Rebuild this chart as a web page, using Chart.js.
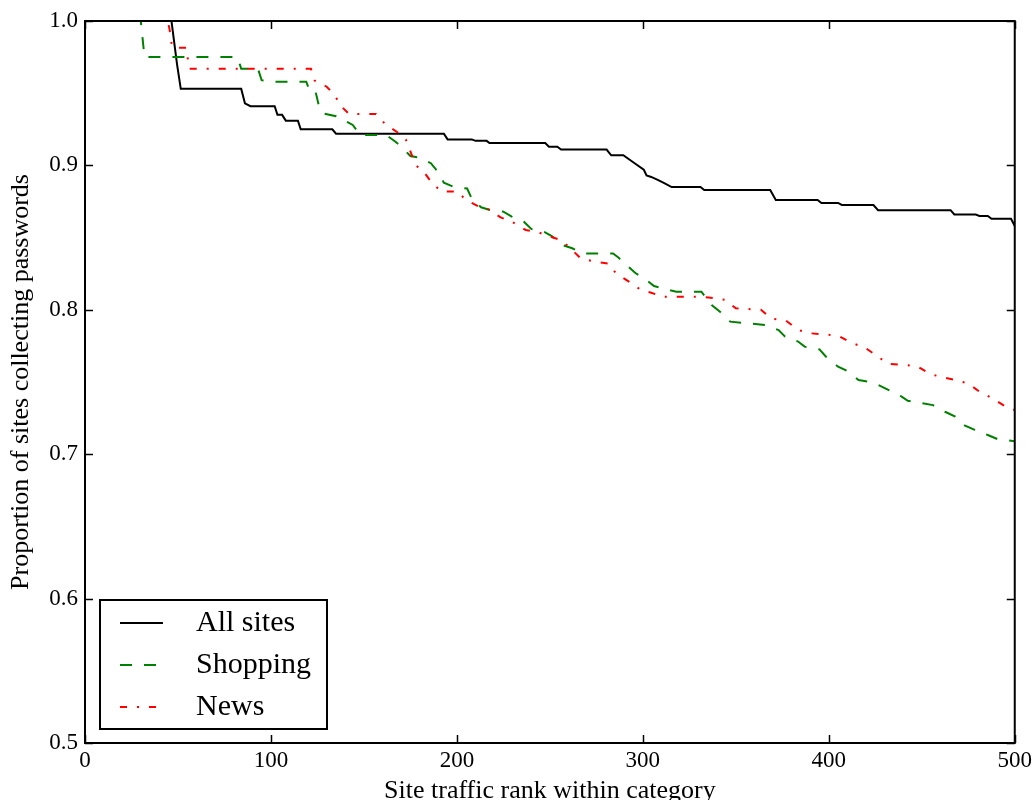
<!DOCTYPE html>
<html>
<head>
<meta charset="utf-8">
<script src="https://cdn.jsdelivr.net/npm/chart.js@4"></script>
<style>
  body { margin: 0; background: #fff; }
</style>
</head>
<body>
<canvas id="myChart" width="1036" height="800"></canvas>
<script>
// values (site rank -> proportion)
const rankAll = [0, 46.5, 49.5, 51.5, 84, 86, 89, 102, 103.5, 106, 108, 114.5, 116, 133, 135, 193, 195, 208, 210, 216, 217.5, 247.5, 249.5, 254, 256, 280.5, 283, 289.5, 295, 300.5, 302, 304.5, 308, 311, 315.5, 331, 333, 368.5, 371.5, 394, 396, 405, 407, 424, 426.5, 465.5, 467.5, 479, 481, 485.5, 487.5, 498, 500];
const allSites = [1.0, 1.0, 0.97, 0.953, 0.953, 0.943, 0.941, 0.941, 0.935, 0.935, 0.931, 0.931, 0.925, 0.925, 0.922, 0.922, 0.918, 0.918, 0.917, 0.917, 0.9155, 0.9155, 0.913, 0.913, 0.911, 0.911, 0.907, 0.907, 0.902, 0.897, 0.893, 0.892, 0.890, 0.888, 0.885, 0.885, 0.883, 0.883, 0.876, 0.876, 0.874, 0.874, 0.8726, 0.8726, 0.869, 0.869, 0.866, 0.866, 0.865, 0.865, 0.863, 0.863, 0.858];

const rankShopping = [0, 30, 32, 82, 84, 93, 95, 101, 119, 121, 124, 126, 128, 135, 139.5, 144, 148, 162, 167, 170, 175, 181, 186, 189.5, 193, 198.5, 205.5, 208, 213, 218, 225, 229.5, 236, 240, 247, 251, 256.5, 262, 268, 284, 287, 292, 296, 302, 306, 313, 318, 331.5, 337, 341.5, 347, 366, 373, 376.5, 383.5, 387, 395, 398.5, 405, 409, 416, 421, 426.5, 432, 439, 442.5, 456, 462.5, 468, 473, 478.5, 485.5, 491, 500];
const shopping = [1.0, 1.0, 0.975, 0.975, 0.967, 0.967, 0.959, 0.958, 0.958, 0.951, 0.951, 0.94, 0.936, 0.934, 0.931, 0.928, 0.921, 0.921, 0.9164, 0.913, 0.9065, 0.905, 0.9015, 0.896, 0.888, 0.885, 0.884, 0.877, 0.871, 0.869, 0.868, 0.8645, 0.861, 0.856, 0.854, 0.851, 0.845, 0.8426, 0.839, 0.839, 0.836, 0.83, 0.8255, 0.8206, 0.8165, 0.814, 0.8125, 0.8125, 0.8033, 0.7987, 0.7918, 0.7895, 0.786, 0.7814, 0.778, 0.7745, 0.7726, 0.7675, 0.7606, 0.7583, 0.7514, 0.7502, 0.748, 0.7445, 0.74, 0.737, 0.734, 0.7294, 0.726, 0.72, 0.7168, 0.7133, 0.7103, 0.709];

const rankNews = [0, 44.5, 45.5, 46.7, 47.5, 54.5, 56, 121.5, 123.5, 130, 134, 138, 142, 156.5, 158.5, 162, 168, 172.5, 175.5, 178, 182.5, 186.5, 191.5, 200, 205, 212, 217, 223.5, 229.5, 237, 243, 250.5, 256.5, 262, 266.5, 274.5, 281.5, 285.5, 292.5, 299, 304.5, 311, 331, 336.5, 344.5, 350, 363.5, 369, 377, 383.5, 390.5, 401, 406, 412, 419.5, 426.5, 432, 441, 448, 454.5, 460, 468, 475, 481, 488, 495, 500];
const news = [1.0, 1.0, 0.994, 0.983, 0.9815, 0.9815, 0.967, 0.967, 0.9587, 0.9545, 0.949, 0.9407, 0.9356, 0.9356, 0.9326, 0.928, 0.923, 0.918, 0.908, 0.9, 0.895, 0.888, 0.882, 0.882, 0.876, 0.8714, 0.8696, 0.864, 0.861, 0.8553, 0.854, 0.8506, 0.848, 0.8414, 0.8357, 0.8333, 0.832, 0.8253, 0.8195, 0.8137, 0.8118, 0.809, 0.809, 0.8084, 0.8068, 0.801, 0.8, 0.794, 0.7925, 0.786, 0.7837, 0.7826, 0.7814, 0.7772, 0.7738, 0.7675, 0.7625, 0.7618, 0.7606, 0.7555, 0.7537, 0.7514, 0.749, 0.7433, 0.7387, 0.733, 0.7306];

const seriesNames = ["All sites", "Shopping", "News"];

const toPoints = (xs, ys) => xs.map((x, i) => ({x: x, y: ys[i]}));

const serif = "'Liberation Serif', 'Times New Roman', serif";

// data block
const data = {
    datasets: [{
        label: seriesNames[0],
        data: toPoints(rankAll, allSites),
        borderColor: '#000000',
        borderWidth: 2,
        order: 2
    }, {
        label: seriesNames[1],
        data: toPoints(rankShopping, shopping),
        borderColor: '#008000',
        borderWidth: 2,
        borderDash: [12, 12],
        order: 1
    }, {
        label: seriesNames[2],
        data: toPoints(rankNews, news),
        borderColor: '#ff0000',
        borderWidth: 2,
        borderDash: [7, 10, 2, 10],
        order: 0
    }]
};

// frame with inward ticks on all four sides, like matplotlib
const framePlugin = {
    id: 'frame',
    afterDatasetsDraw(chart) {
        const {ctx, chartArea: a, scales} = chart;
        ctx.save();
        ctx.strokeStyle = '#000';
        ctx.lineWidth = 1.5;
        ctx.beginPath();
        scales.x.ticks.forEach(t => {
            const px = Math.round(scales.x.getPixelForValue(t.value)) + 0.5;
            ctx.moveTo(px, a.bottom); ctx.lineTo(px, a.bottom - 8);
            ctx.moveTo(px, a.top); ctx.lineTo(px, a.top + 8);
        });
        scales.y.ticks.forEach(t => {
            const py = Math.round(scales.y.getPixelForValue(t.value)) + 0.5;
            ctx.moveTo(a.left, py); ctx.lineTo(a.left + 8, py);
            ctx.moveTo(a.right, py); ctx.lineTo(a.right - 8, py);
        });
        ctx.stroke();
        ctx.lineWidth = 2;
        ctx.strokeRect(a.left, a.top, a.right - a.left, a.bottom - a.top);
        ctx.restore();
    }
};

// legend box in the lower left corner of the plot
const legendBox = {
    id: 'legendBox',
    afterDraw(chart) {
        const ctx = chart.ctx;
        const x0 = 100, y0 = 600, w = 227, h = 129;
        ctx.save();
        ctx.fillStyle = '#fff';
        ctx.fillRect(x0, y0, w, h);
        ctx.strokeStyle = '#000';
        ctx.lineWidth = 2;
        ctx.strokeRect(x0, y0, w, h);
        chart.data.datasets.forEach((ds, i) => {
            const y = 623 + i * 42;
            ctx.beginPath();
            ctx.strokeStyle = ds.borderColor;
            ctx.lineWidth = ds.borderWidth;
            ctx.setLineDash(ds.borderDash || []);
            ctx.moveTo(120, y);
            ctx.lineTo(163, y);
            ctx.stroke();
            ctx.setLineDash([]);
            ctx.fillStyle = '#000';
            ctx.font = "30px " + serif;
            ctx.textBaseline = 'middle';
            ctx.fillText(ds.label, 196, y);
        });
        ctx.restore();
    }
};

// config block
const config = {
    type: 'line',
    data: data,
    options: {
        responsive: false,
        animation: false,
        layout: {
            padding: {left: 0, top: 21, right: 19, bottom: 0}
        },
        elements: {
            point: {radius: 0},
            line: {tension: 0, fill: false}
        },
        scales: {
            x: {
                type: 'linear',
                min: 0,
                max: 500,
                afterFit: (scale) => { scale.height = 57; },
                grid: {drawOnChartArea: false, drawTicks: false},
                border: {display: false},
                ticks: {
                    stepSize: 100,
                    padding: 4,
                    color: '#000',
                    maxRotation: 0,
                    font: {family: serif, size: 23}
                },
                title: {
                    display: true,
                    text: 'Site traffic rank within category',
                    color: '#000',
                    padding: {top: 0, bottom: 0},
                    font: {family: serif, size: 26, lineHeight: 0.7}
                }
            },
            y: {
                min: 0.5,
                max: 1.0,
                afterFit: (scale) => { scale.width = 85; },
                grid: {drawOnChartArea: false, drawTicks: false},
                border: {display: false},
                ticks: {
                    stepSize: 0.1,
                    padding: 7,
                    color: '#000',
                    font: {family: serif, size: 23},
                    callback: (v) => v.toFixed(1)
                },
                title: {
                    display: true,
                    text: 'Proportion of sites collecting passwords',
                    color: '#000',
                    padding: {top: 6, bottom: 0},
                    font: {family: serif, size: 26}
                }
            }
        },
        plugins: {
            legend: {display: false},
            tooltip: {enabled: false}
        }
    },
    plugins: [framePlugin, legendBox]
};

// init render block
const myChart = new Chart(
    document.getElementById('myChart'),
    config
);
</script>
</body>
</html>
